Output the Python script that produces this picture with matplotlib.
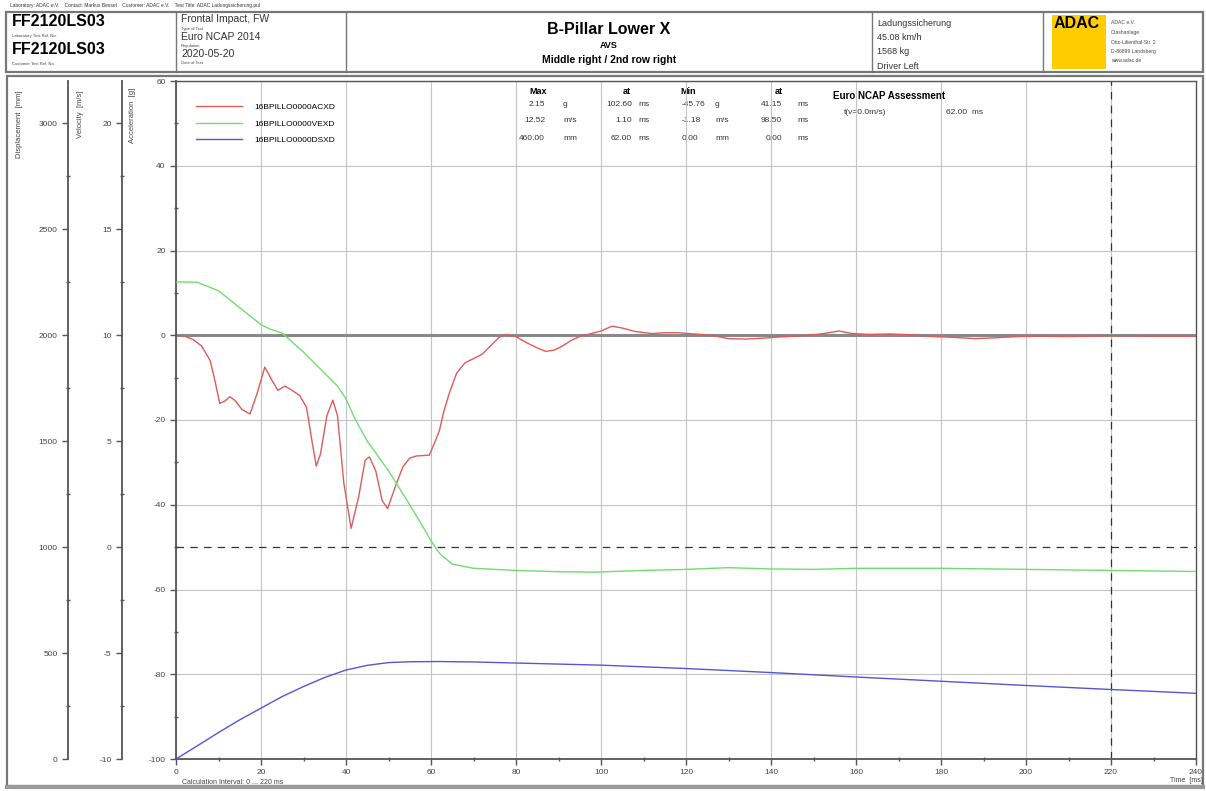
import numpy as np
import matplotlib
matplotlib.use('Agg')
import matplotlib.pyplot as plt
from matplotlib.patches import Rectangle
from matplotlib.ticker import MultipleLocator

plt.rcParams['font.family'] = ['Liberation Sans', 'DejaVu Sans']
plt.rcParams['axes.unicode_minus'] = False

W, H = 1206, 791
PT = 72 / 100  # pixels -> points

# --- data ---
t_acc = [0, 2, 4, 6, 8, 9, 10.3, 11.5, 12.7, 14, 15.5, 17.4, 19, 20.9, 22.5, 24, 25.6, 27,
         29.1, 30.7, 32, 33, 34, 35.5, 36.9, 38, 39.5, 41.2, 43, 44.5, 45.5, 47, 48.5, 49.8,
         51.5, 53.4, 55, 56.5, 58, 59.6, 61, 62, 63, 64.3, 66, 68, 70, 72, 74, 76, 77.5, 80,
         82, 85, 87, 89, 91, 93, 95, 97, 100, 102.6, 105, 108, 112, 115, 118, 122, 126, 130,
         134, 138, 142, 146, 150, 153, 156, 159, 163, 168, 173, 178, 183, 188, 193, 198, 203,
         210, 220, 230, 240]
acc = [0.0, -0.2, -1.0, -2.5, -5.9, -10, -16.1, -15.5, -14.5, -15.5, -17.5, -18.6, -14, -7.5,
       -10.5, -13, -12, -12.8, -14.2, -17, -25, -30.9, -28, -19, -15.3, -19, -35, -45.6, -38,
       -29.5, -28.7, -32, -39, -40.9, -36, -31, -29, -28.5, -28.4, -28.3, -25, -22.4, -18,
       -13.7, -9, -6.5, -5.5, -4.5, -2.5, -0.5, 0.2, -0.3, -1.5, -3.0, -3.8, -3.5, -2.5, -1.2,
       -0.3, 0.2, 1.0, 2.15, 1.7, 0.9, 0.4, 0.6, 0.6, 0.3, 0.0, -0.8, -0.9, -0.7, -0.4, -0.2,
       0.1, 0.5, 1.0, 0.4, 0.2, 0.3, 0.1, -0.3, -0.5, -0.8, -0.6, -0.3, -0.2, -0.3, -0.1,
       -0.2, -0.2]

t_vel = [0, 1.1, 5, 10, 15, 20, 22, 25, 30, 35, 38, 40, 42, 45, 50, 55, 58, 60, 62, 65, 70,
         80, 90, 98.5, 110, 120, 130, 140, 150, 160, 180, 200, 220, 240]
vel = [12.50, 12.52, 12.5, 12.1, 11.3, 10.5, 10.3, 10.1, 9.2, 8.2, 7.6, 7.0, 6.1, 5.0, 3.6,
       2.0, 1.0, 0.3, -0.3, -0.8, -1.0, -1.1, -1.16, -1.18, -1.1, -1.05, -0.97, -1.03, -1.05,
       -1.0, -1.0, -1.05, -1.1, -1.15]

t_dis = [0, 5, 10, 15, 20, 25, 30, 35, 40, 45, 50, 55, 62, 70, 80, 100, 120, 140, 160, 180,
         200, 220, 240]
dis = [0, 62, 125, 185, 240, 295, 342, 385, 420, 442, 455, 459, 460, 458, 453, 443, 427, 408,
       387, 367, 347, 328, 310]

names = ['16BPILLO0000ACXD', '16BPILLO0000VEXD', '16BPILLO0000DSXD']
colors = ['#e05a5a', '#72dc72', '#5555d5']

stats = [['2.15', 'g', '102.60', 'ms', '-45.76', 'g', '41.15', 'ms'],
         ['12.52', 'm/s', '1.10', 'ms', '-1.18', 'm/s', '98.50', 'ms'],
         ['460.00', 'mm', '62.00', 'ms', '0.00', 'mm', '0.00', 'ms']]

fig = plt.figure(figsize=(W / 100, H / 100), dpi=100)

# page overlay in pixel coordinates
bg = fig.add_axes([0, 0, 1, 1])
bg.set_xlim(0, W)
bg.set_ylim(H, 0)
bg.axis('off')

edge = '#777777'
bg.add_patch(Rectangle((6, 12), 1197, 60, fill=False, ec=edge, lw=1.6))
for xv in [176, 346, 872, 1043]:
    bg.plot([xv, xv], [12, 72], color=edge, lw=1.0)
bg.add_patch(Rectangle((7, 76), 1196, 710, fill=False, ec=edge, lw=1.6))
bg.plot([7, 1203], [787, 787], color='#999999', lw=3)

bg.text(10, 5, 'Laboratory: ADAC e.V.    Contact: Markus Bessel    Customer: ADAC e.V.    '
        'Test Title: ADAC Ladungssicherung.pul', fontsize=3.5, color='#333333', va='center')

bg.text(12, 22, 'FF2120LS03', fontsize=11.5, fontweight='bold', va='center')
bg.text(12, 36, 'Laboratory Test Ref. No.', fontsize=3, color='#444444', va='center')
bg.text(12, 50, 'FF2120LS03', fontsize=11.5, fontweight='bold', va='center')
bg.text(12, 64, 'Customer Test Ref. No.', fontsize=3, color='#444444', va='center')

bg.text(181, 19, 'Frontal Impact, FW', fontsize=7.5, color='#333333', va='center')
bg.text(181, 29, 'Type of Test', fontsize=3, color='#444444', va='center')
bg.text(181, 37, 'Euro NCAP 2014', fontsize=7.5, color='#333333', va='center')
bg.text(181, 46, 'Regulation', fontsize=3, color='#444444', va='center')
bg.text(181, 54, '2020-05-20', fontsize=7.5, color='#333333', va='center')
bg.text(181, 63, 'Date of Test', fontsize=3, color='#444444', va='center')

bg.text(609, 30, 'B-Pillar Lower X', fontsize=11.5, fontweight='bold', ha='center', va='center')
bg.text(609, 45, 'AVS', fontsize=6.5, fontweight='bold', ha='center', va='center')
bg.text(609, 60, 'Middle right / 2nd row right', fontsize=7.5, fontweight='bold',
        ha='center', va='center')

for i, s in enumerate(['Ladungssicherung', '45.08 km/h', '1568 kg', 'Driver Left']):
    bg.text(877, 23 + i * 14.5, s, fontsize=6.5, color='#333333', va='center')

bg.add_patch(Rectangle((1052, 15), 54, 54, color='#ffcc00', lw=0))
bg.text(1054, 24, 'ADAC', fontsize=11.5, fontweight='bold', ha='left', va='center')
for i, s in enumerate(['ADAC e.V.', 'Crashanlage', 'Otto-Lilienthal-Str. 2',
                       'D-86899 Landsberg', 'www.adac.de']):
    bg.text(1111, 23 + i * 9.5, s, fontsize=3.6, color='#444444', va='center')

# --- main plot ---
ax = fig.add_axes([176 / W, 1 - 759 / H, (1196 - 176) / W, (759 - 81) / H])
ax.set_xlim(0, 240)
ax.set_ylim(-100, 60)
ax.patch.set_alpha(0)

ax_v = ax.twinx()
ax_d = ax.twinx()
ax_v.set_ylim(-10, 22)
ax_d.set_ylim(0, 3200)
for a, off in [(ax_v, 54 * PT), (ax_d, 108 * PT)]:
    a.yaxis.set_ticks_position('left')
    a.spines['left'].set_visible(True)
    a.spines['left'].set_position(('outward', off))
    for s in ['right', 'top', 'bottom']:
        a.spines[s].set_visible(False)

ax_v.yaxis.set_major_locator(MultipleLocator(5))
ax_v.yaxis.set_minor_locator(MultipleLocator(2.5))
ax_d.yaxis.set_major_locator(MultipleLocator(500))
ax_d.yaxis.set_minor_locator(MultipleLocator(250))
ax.yaxis.set_major_locator(MultipleLocator(20))
ax.yaxis.set_minor_locator(MultipleLocator(10))
ax.xaxis.set_major_locator(MultipleLocator(20))
ax.xaxis.set_minor_locator(MultipleLocator(10))

for a in [ax, ax_v, ax_d]:
    for s in a.spines.values():
        s.set_color('#555555')
        s.set_linewidth(1.3)
    a.tick_params(which='major', direction='out', length=4.5, width=1, color='#555555',
                  labelsize=6, labelcolor='#444444', pad=3)
    a.tick_params(which='minor', direction='inout', length=3, width=1, color='#555555')
ax.spines['top'].set_linewidth(1.0)
ax.spines['right'].set_linewidth(1.0)

ax.grid(True, which='major', color='#c4c4c4', lw=0.8)
ax.set_axisbelow(True)
ax.axhline(0, color='#8a8a8a', lw=2.2, zorder=1)
ax_v.axhline(0, color='#333333', lw=0.9, ls=(0, (6, 5)), zorder=1)
ax.axvline(220, color='#333333', lw=0.9, ls=(0, (6, 5)), zorder=1)

ax.plot(t_acc, acc, color=colors[0], lw=1.0, label=names[0])
ax_v.plot(t_vel, vel, color=colors[1], lw=1.0, label=names[1])
ax_d.plot(t_dis, dis, color=colors[2], lw=1.0, label=names[2])

handles = ax.get_lines()[-1:] + ax_v.get_lines()[-1:] + ax_d.get_lines()[-1:]
ax_d.legend(handles, names, loc='upper left', bbox_to_anchor=(0.02, 0.967), frameon=False,
            fontsize=6, handlelength=5.5, handletextpad=1.4, labelspacing=1.05,
            borderpad=0, borderaxespad=0)

fig.text(20 / W, 1 - 90 / H, 'Displacement  [mm]', rotation=90, fontsize=5.5,
         color='#444444', ha='center', va='top')
fig.text(80 / W, 1 - 90 / H, 'Velocity  [m/s]', rotation=90, fontsize=5.5,
         color='#444444', ha='center', va='top')
fig.text(133 / W, 1 - 88 / H, 'Acceleration  [g]', rotation=90, fontsize=5.5,
         color='#444444', ha='center', va='top')

bg.text(182, 782, 'Calculation Interval: 0 ... 220 ms', fontsize=5, color='#444444', va='center')
bg.text(1170, 781, 'Time  [ms]', fontsize=5, color='#444444', va='center')

# statistics table
heads = [(538, 'Max'), (627, 'at'), (688, 'Min'), (779, 'at')]
for xh, s in heads:
    bg.text(xh, 92, s, fontsize=6.5, fontweight='bold', ha='center', va='center')
cols = [(545, 'right'), (563, 'left'), (632, 'right'), (638, 'left'),
        (682, 'left'), (715, 'left'), (782, 'right'), (797, 'left')]
for r, row in enumerate(stats):
    for (xc, al), s in zip(cols, row):
        bg.text(xc, 104 + r * 17, s, fontsize=6, color='#333333', ha=al, va='center')

bg.text(833, 96, 'Euro NCAP Assessment', fontsize=7, fontweight='bold', va='center')
bg.text(844, 112, 't(v=0.0m/s)', fontsize=6, color='#333333', va='center')
bg.text(946, 112, '62.00  ms', fontsize=6, color='#333333', va='center')

fig.savefig('out.png', dpi=100)
